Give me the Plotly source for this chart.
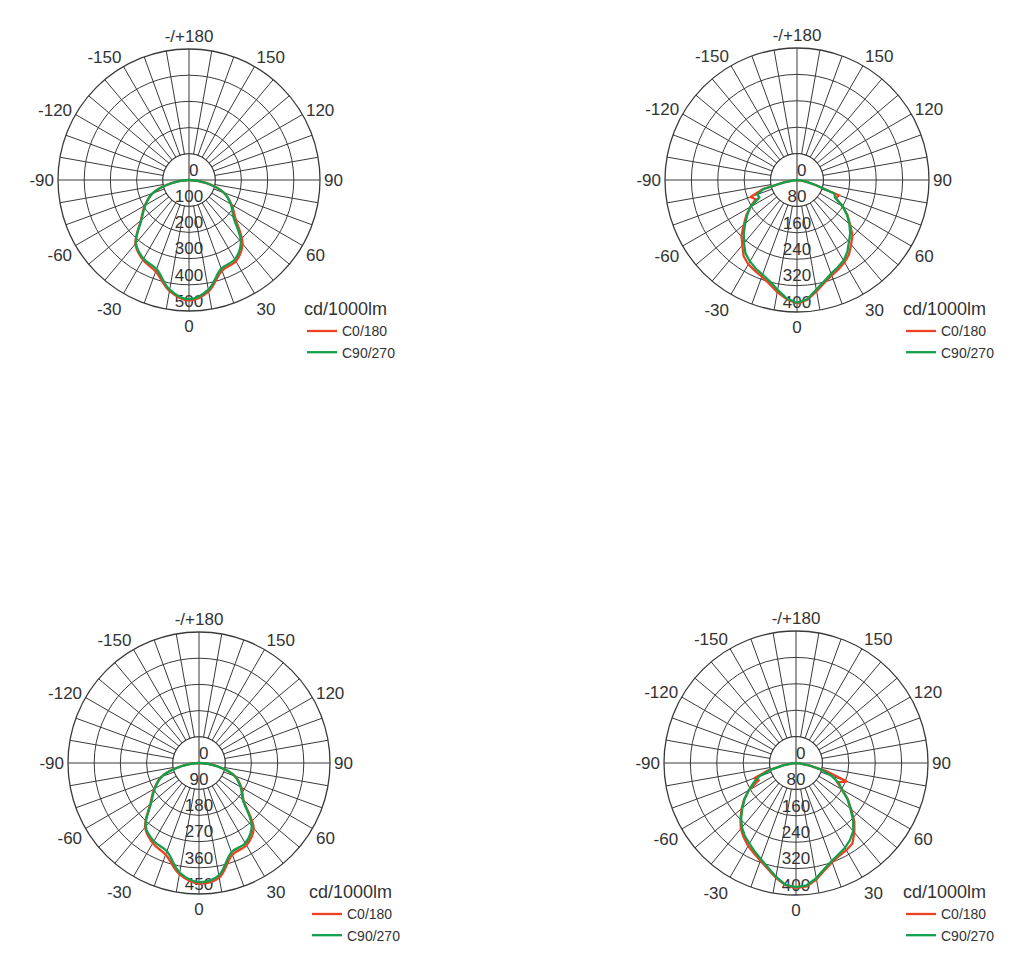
import numpy as np
import plotly.graph_objects as go

# ---------------- data ----------------
THETA_10 = [-90, -80, -70, -60, -50, -40, -30, -20, -10, 0, 10, 20, 30, 40, 50, 60, 70, 80, 90]
THETA_5 = list(range(-90, 91, 5))

# top-left diagram (cd/1000lm)
TL_C0 = [0, 68, 148, 195, 240, 318, 352, 372, 430, 460, 432, 368, 358, 318, 232, 188, 142, 68, 0]
TL_C90 = [0, 66, 147, 192, 237, 315, 347, 362, 425, 455, 425, 360, 350, 308, 222, 184, 141, 66, 0]
TL_RINGS = [0, 100, 200, 300, 400, 500]

# top-right diagram
TR_C0 = [0, 10, 40, 108, 150, 138, 163, 188, 210, 238, 258, 282, 295, 303, 312, 325, 345, 362, 374,
         364, 342, 322, 308, 298, 288, 275, 255, 238, 210, 187, 160, 130, 135, 58, 28, 10, 0]
TR_C90 = [0, 10, 40, 105, 128, 126, 163, 184, 205, 228, 250, 272, 285, 296, 305, 318, 338, 360, 372,
          362, 337, 318, 302, 292, 282, 266, 245, 228, 207, 185, 160, 128, 120, 58, 28, 10, 0]
TR_RINGS = [0, 80, 160, 240, 320, 400]

# bottom-left diagram
BL_C0 = [0, 60, 138, 178, 218, 288, 318, 335, 388, 414, 400, 335, 326, 292, 200, 168, 132, 64, 0]
BL_C90 = [0, 58, 135, 175, 215, 285, 310, 323, 382, 409, 392, 326, 318, 282, 197, 165, 130, 62, 0]
BL_RINGS = [0, 90, 180, 270, 360, 450]

# bottom-right diagram
BR_C0 = [0, 10, 40, 88, 135, 125, 165, 192, 215, 238, 260, 276, 290, 302, 315, 332, 353, 372, 378,
         375, 358, 336, 320, 310, 305, 298, 275, 250, 218, 192, 160, 138, 164, 95, 40, 10, 0]
BR_C90 = [0, 10, 38, 80, 118, 142, 165, 190, 212, 235, 255, 270, 282, 296, 310, 328, 350, 370, 376,
          372, 354, 332, 316, 305, 297, 285, 270, 245, 215, 190, 162, 142, 115, 80, 40, 10, 0]
BR_RINGS = [0, 80, 160, 240, 320, 400]

ANG_TICKVALS = list(range(0, 360, 10))
ANG_LABELS = {0: "0", 30: "30", 60: "60", 90: "90", 120: "120", 150: "150", 180: "-/+180",
              210: "-150", 240: "-120", 270: "-90", 300: "-60", 330: "-30"}
ANG_TICKTEXT = [ANG_LABELS.get(v, "") for v in ANG_TICKVALS]

SERIES_NAMES = ["C0/180", "C90/270"]
UNIT = "cd/1000lm"

# ---------------- style ----------------
RED = "#ee4124"
GREEN = "#12a04a"
GRID = "#3a3a3a"
TEXT = "#333333"
FONT = "Liberation Sans, Arial, sans-serif"
W, H = 1024, 967


def px_dom(cx, cy, rad):
    x0, x1 = (cx - rad) / W, (cx + rad) / W
    y0, y1 = 1 - (cy + rad) / H, 1 - (cy - rad) / H
    return dict(x=[x0, x1], y=[y0, y1])


panels = [
    dict(polar="polar", theta=THETA_10, c0=TL_C0, c90=TL_C90, rings=TL_RINGS, shape="spline",
         dom=px_dom(189, 180, 131), legend="legend", lx=302, ly=292),
    dict(polar="polar2", theta=THETA_5, c0=TR_C0, c90=TR_C90, rings=TR_RINGS, shape="linear",
         dom=px_dom(797, 180, 132), legend="legend2", lx=901, ly=292),
    dict(polar="polar3", theta=THETA_10, c0=BL_C0, c90=BL_C90, rings=BL_RINGS, shape="spline",
         dom=px_dom(199, 763, 131), legend="legend3", lx=307, ly=875),
    dict(polar="polar4", theta=THETA_5, c0=BR_C0, c90=BR_C90, rings=BR_RINGS, shape="linear",
         dom=px_dom(796, 763, 132), legend="legend4", lx=901, ly=875),
]

fig = go.Figure()
layout = {}
circle_theta = np.arange(0, 361, 2)

for p in panels:
    sp = p["polar"]
    r1 = p["rings"][1]
    # white inner disk (no spokes inside first ring)
    fig.add_trace(go.Scatterpolar(r=[r1] * len(circle_theta), theta=circle_theta, subplot=sp,
                                  mode="lines", fill="toself", fillcolor="white",
                                  line=dict(color=GRID, width=1.1), hoverinfo="skip", showlegend=False))
    # axis cross through the centre
    fig.add_trace(go.Scatterpolar(r=[r1, 0, r1, None, r1, 0, r1],
                                  theta=[90, 90, 270, None, 0, 0, 180], subplot=sp,
                                  mode="lines", line=dict(color=GRID, width=1.1),
                                  hoverinfo="skip", showlegend=False))
    # radial value labels
    fig.add_trace(go.Scatterpolar(r=p["rings"], theta=[0] * len(p["rings"]), subplot=sp,
                                  mode="text", text=[str(v) for v in p["rings"]],
                                  textposition=["top right"] + ["top center"] * (len(p["rings"]) - 1),
                                  textfont=dict(family=FONT, size=17, color=TEXT),
                                  hoverinfo="skip", showlegend=False))
    # curves
    fig.add_trace(go.Scatterpolar(r=p["c0"], theta=p["theta"], subplot=sp, mode="lines",
                                  name=SERIES_NAMES[0], legend=p["legend"],
                                  line=dict(color=RED, width=2.3, shape=p["shape"])))
    fig.add_trace(go.Scatterpolar(r=p["c90"], theta=p["theta"], subplot=sp, mode="lines",
                                  name=SERIES_NAMES[1], legend=p["legend"],
                                  line=dict(color=GREEN, width=2.3, shape=p["shape"])))

    layout[sp] = dict(
        domain=p["dom"],
        bgcolor="white",
        angularaxis=dict(rotation=270, direction="counterclockwise",
                         tickmode="array", tickvals=ANG_TICKVALS, ticktext=ANG_TICKTEXT,
                         ticks="", showline=True, linecolor=GRID, linewidth=1.3,
                         showgrid=True, gridcolor=GRID, gridwidth=1.1,
                         tickfont=dict(family=FONT, size=17, color=TEXT)),
        radialaxis=dict(range=[0, p["rings"][-1]], tickmode="array", tickvals=p["rings"][1:],
                        showticklabels=False, ticks="", showline=False,
                        showgrid=True, gridcolor=GRID, gridwidth=1.1),
    )
    layout[p["legend"]] = dict(
        x=p["lx"] / W, y=1 - p["ly"] / H, xanchor="left", yanchor="top",
        bgcolor="rgba(0,0,0,0)", borderwidth=0,
        title=dict(text=UNIT, font=dict(family=FONT, size=18, color=TEXT)),
        font=dict(family=FONT, size=14, color=TEXT),
        tracegroupgap=0,
    )

fig.update_layout(width=W, height=H, margin=dict(l=0, r=0, t=0, b=0),
                  paper_bgcolor="white", plot_bgcolor="white",
                  font=dict(family=FONT, color=TEXT), hovermode=False, **layout)

fig.write_html("out.html")
